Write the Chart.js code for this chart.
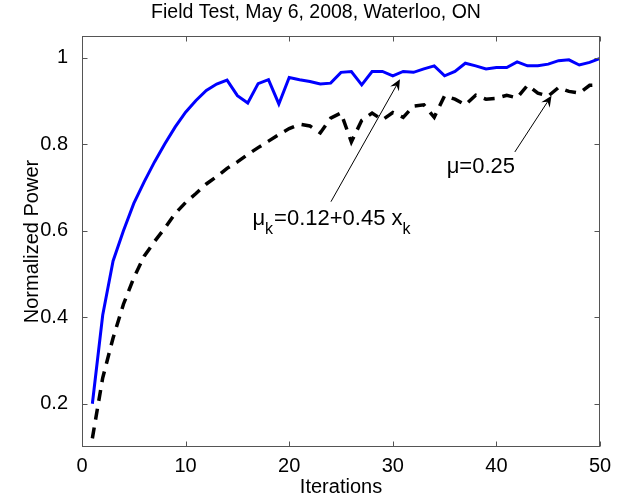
<!DOCTYPE html>
<html><head><meta charset="utf-8">
<script src="https://cdn.jsdelivr.net/npm/chart.js@4/dist/chart.umd.min.js"></script>
<style>html,body{margin:0;padding:0;background:#fff;}#wrap{width:629px;height:501px;}</style>
</head><body><div id="wrap"><canvas id="c" width="629" height="501"></canvas></div>
<script>
const iterations = [1,2,3,4,5,6,7,8,9,10,11,12,13,14,15,16,17,18,19,20,21,22,23,24,25,26,27,28,29,30,31,32,33,34,35,36,37,38,39,40,41,42,43,44,45,46,47,48,49,50];
const adaptivePower = [0.200,0.405,0.530,0.600,0.663,0.713,0.759,0.801,0.840,0.874,0.901,0.924,0.939,0.948,0.912,0.895,0.940,0.949,0.893,0.954,0.949,0.945,0.939,0.941,0.966,0.968,0.937,0.968,0.968,0.958,0.968,0.966,0.974,0.981,0.958,0.968,0.987,0.981,0.974,0.977,0.977,0.990,0.981,0.981,0.985,0.993,0.995,0.983,0.989,0.998];
const fixedPower = [0.120,0.260,0.352,0.430,0.491,0.541,0.575,0.606,0.640,0.665,0.686,0.708,0.725,0.744,0.759,0.776,0.792,0.807,0.822,0.836,0.846,0.842,0.826,0.860,0.872,0.805,0.855,0.872,0.856,0.873,0.862,0.888,0.891,0.862,0.912,0.904,0.891,0.913,0.904,0.906,0.913,0.907,0.936,0.918,0.911,0.931,0.922,0.918,0.936,0.937];
const xTicks = [0,10,20,30,40,50];
const yTicks = [0.2,0.4,0.6,0.8,1];
const titleText = 'Field Test, May 6, 2008, Waterloo, ON';
const xLabel = 'Iterations';
const yLabel = 'Normalized Power';
const arrowNotes = [
  {from:[24.03,0.667], to:[30.69,0.950]},
  {from:[41.78,0.782], to:[45.32,0.912]}
];
const textNotes = [
  {at:[16.45,0.614], parts:[['μ',0],['k',1],['=0.12+0.45 x',0],['k',1]]},
  {at:[35.2,0.734], parts:[['μ=0.25',0]]}
];

const FAM = "'Liberation Sans', Arial, Helvetica, sans-serif";
const axisFont = {family:FAM, size:20, weight:'normal'};

const boxPlugin = {
  id:'boxTicks',
  afterDatasetsDraw(chart){
    const {ctx, chartArea:a, scales:{x,y}} = chart;
    ctx.save();
    // title
    ctx.fillStyle = '#000';
    ctx.font = '19.5px ' + FAM;
    ctx.textAlign = 'center';
    ctx.textBaseline = 'middle';
    ctx.fillText(titleText, (a.left + a.right)/2 - 25, 13);

    ctx.strokeStyle = '#555';
    ctx.lineWidth = 1;
    const L = Math.round(a.left)+0.5, R = Math.round(a.right)-0.5, T = Math.round(a.top)+0.5, B = Math.round(a.bottom)-0.5;
    ctx.strokeRect(L, T, R-L, B-T);
    ctx.beginPath();
    xTicks.forEach(v=>{
      const px = Math.round(x.getPixelForValue(v))+0.5;
      ctx.moveTo(px,B); ctx.lineTo(px,B-5);
      ctx.moveTo(px,T); ctx.lineTo(px,T+5);
    });
    yTicks.forEach(v=>{
      const py = Math.round(y.getPixelForValue(v))+0.5;
      ctx.moveTo(L,py); ctx.lineTo(L+5,py);
      ctx.moveTo(R,py); ctx.lineTo(R-5,py);
    });
    ctx.stroke();

    // arrows
    ctx.strokeStyle = '#000';
    ctx.fillStyle = '#000';
    arrowNotes.forEach(n=>{
      const x0 = x.getPixelForValue(n.from[0]), y0 = y.getPixelForValue(n.from[1]);
      const x1 = x.getPixelForValue(n.to[0]), y1 = y.getPixelForValue(n.to[1]);
      const ang = Math.atan2(y1-y0, x1-x0);
      const hl = 11, hw = 5;
      ctx.lineWidth = 1;
      ctx.beginPath(); ctx.moveTo(x0,y0); ctx.lineTo(x1 - Math.cos(ang)*6, y1 - Math.sin(ang)*6); ctx.stroke();
      const ux = Math.cos(ang), uy = Math.sin(ang), vx = -uy, vy = ux;
      ctx.beginPath();
      ctx.moveTo(x1,y1);
      ctx.lineTo(x1 - ux*hl + vx*hw, y1 - uy*hl + vy*hw);
      ctx.lineTo(x1 - ux*hl*0.65, y1 - uy*hl*0.65);
      ctx.lineTo(x1 - ux*hl - vx*hw, y1 - uy*hl - vy*hw);
      ctx.closePath();
      ctx.fill();
    });

    // text notes
    ctx.textBaseline = 'alphabetic';
    ctx.textAlign = 'left';
    textNotes.forEach(n=>{
      let px = x.getPixelForValue(n.at[0]);
      const py = y.getPixelForValue(n.at[1]);
      n.parts.forEach(([s,sub])=>{
        ctx.font = (sub ? 16 : 22) + 'px ' + FAM;
        ctx.fillText(s, px, py + (sub ? 9 : 0));
        px += ctx.measureText(s).width + (sub ? 1 : 0);
      });
    });
    ctx.restore();
  }
};

const fmt = v => String(+(+v).toFixed(2));

new Chart(document.getElementById('c'), {
  type:'line',
  data:{
    datasets:[
      {label:'adaptive', data:iterations.map((v,i)=>({x:v, y:adaptivePower[i]})), borderColor:'#0000ff', borderWidth:3, pointRadius:0, tension:0, fill:false},
      {label:'fixed', data:iterations.map((v,i)=>({x:v, y:fixedPower[i]})), borderColor:'#000000', borderWidth:3.5, borderDash:[11,8], borderCapStyle:'butt', pointRadius:0, tension:0, fill:false}
    ]
  },
  options:{
    responsive:false, animation:false, devicePixelRatio:1,
    layout:{padding:{left:0, right:29, top:36, bottom:0}},
    plugins:{
      legend:{display:false}, tooltip:{enabled:false}, title:{display:false}
    },
    scales:{
      x:{type:'linear', min:0, max:50,
        afterBuildTicks(s){ s.ticks = xTicks.map(v=>({value:v})); },
        afterFit(s){ s.height = 54; },
        grid:{display:false, drawTicks:false}, border:{display:false},
        ticks:{color:'#000', font:axisFont, padding:7, maxRotation:0, autoSkip:false, callback:fmt},
        title:{display:true, text:xLabel, color:'#000', font:axisFont, padding:{top:0, bottom:2}}
      },
      y:{type:'linear', min:0.1, max:1.05,
        afterBuildTicks(s){ s.ticks = yTicks.map(v=>({value:v})); },
        afterFit(s){ s.width = 82; },
        grid:{display:false, drawTicks:false}, border:{display:false},
        ticks:{color:'#000', font:axisFont, padding:14, autoSkip:false, callback:fmt},
        title:{display:true, text:yLabel, color:'#000', font:axisFont, padding:{top:20, bottom:0}}
      }
    }
  },
  plugins:[boxPlugin]
});
</script></body></html>
